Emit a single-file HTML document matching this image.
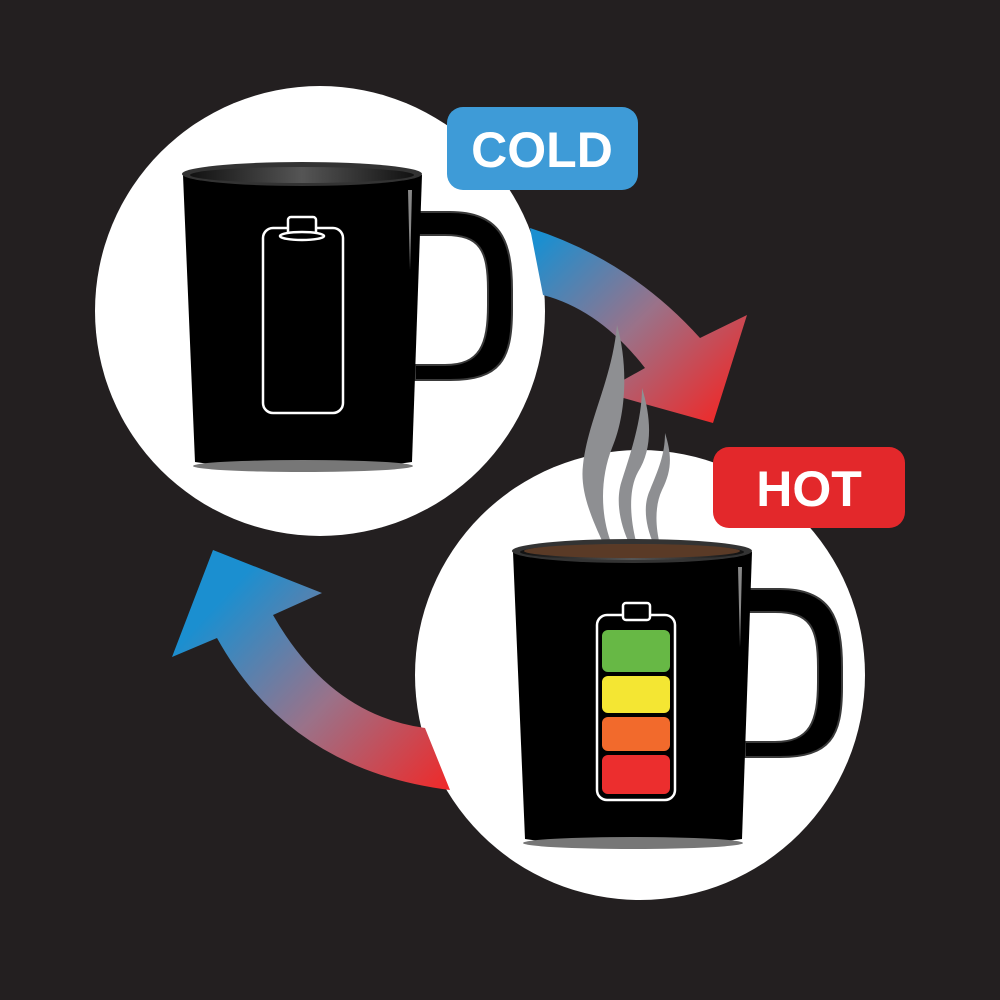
<!DOCTYPE html>
<html><head><meta charset="utf-8"><style>
html,body{margin:0;padding:0;background:#231f20;}
svg{display:block}
</style></head><body>
<svg width="1000" height="1000" viewBox="0 0 1000 1000" xmlns="http://www.w3.org/2000/svg">
<defs>
<linearGradient id="g1" x1="540" y1="240" x2="720" y2="420" gradientUnits="userSpaceOnUse">
<stop offset="0" stop-color="#1b8fd0"/><stop offset="0.5" stop-color="#9a7289"/><stop offset="1" stop-color="#ee2a2a"/></linearGradient>
<linearGradient id="g2" x1="230" y1="590" x2="445" y2="790" gradientUnits="userSpaceOnUse">
<stop offset="0" stop-color="#1b8fd0"/><stop offset="0.5" stop-color="#9a7289"/><stop offset="1" stop-color="#ee2a2a"/></linearGradient>
<linearGradient id="rim" x1="0" y1="0" x2="1" y2="0"><stop offset="0" stop-color="#111"/><stop offset="0.5" stop-color="#555"/><stop offset="1" stop-color="#111"/></linearGradient>
<g id="mug">
<path d="M415 212 L450 212 C500 212 512 240 512 290 L512 310 C512 360 500 380 450 380 L415 380 L415 365 L445 365 C480 365 488 345 488 305 L488 290 C488 250 480 235 445 235 L415 235 Z" fill="#000" stroke="#3a3a3a" stroke-width="2"/>
<path d="M183 175 L422 175 L412 462 Q303 478 195 462 Z" fill="#000"/>
<ellipse cx="303" cy="466" rx="110" ry="6" fill="#777"/>
<ellipse cx="302" cy="174" rx="120" ry="12" fill="#333"/>
<ellipse cx="302" cy="175" rx="112" ry="8" fill="url(#rim)"/>
<path d="M408 190 L412 190 L410 270 Z" fill="#888"/>
</g>
</defs>
<circle cx="320" cy="311" r="225" fill="#fff"/>
<circle cx="640" cy="675" r="225" fill="#fff"/>
<path d="M530 228 Q630 260 700 338 L747 315 L713 423 L602 392 L645 368 Q600 310 543 295 Z" fill="url(#g1)"/>
<path d="M450 790 Q290 770 217 638 L172 657 L213 550 L322 593 L273 615 Q330 715 425 728 Z" fill="url(#g2)"/>
<use href="#mug"/>
<g fill="none" stroke="#fff" stroke-width="2.5">
<rect x="263" y="228" width="80" height="185" rx="10"/>
<rect x="288" y="217" width="28" height="18" rx="3" fill="#000"/>
<ellipse cx="302" cy="236" rx="22" ry="4" fill="#000"/>
</g>
<g fill="#8e8f92">
<path d="M617 325 C627 360 628 410 612 448 C600 478 600 515 612 545 L604 545 C590 515 580 490 583 465 C588 420 612 380 617 325 Z"/>
<path d="M642 388 C652 420 652 450 638 472 C628 490 630 520 637 545 L630 545 C620 525 615 500 622 480 C630 455 642 420 642 388 Z"/>
<path d="M665 433 C672 455 672 470 662 490 C655 505 655 525 660 545 L654 545 C645 525 643 505 650 490 C658 470 665 455 665 433 Z"/>
</g>
<use href="#mug" transform="translate(330,377)"/>
<ellipse cx="632" cy="551" rx="108" ry="7" fill="#5a3a26"/>
<rect x="597" y="615" width="78" height="185" rx="10" fill="#000" stroke="#fff" stroke-width="2.5"/>
<rect x="623" y="603" width="27" height="17" rx="3" fill="#000" stroke="#fff" stroke-width="2.5"/>
<rect x="602" y="630" width="68" height="42" rx="6" fill="#67b845"/>
<rect x="602" y="676" width="68" height="37" rx="6" fill="#f4e633"/>
<rect x="602" y="717" width="68" height="34" rx="6" fill="#f26a2c"/>
<rect x="602" y="755" width="68" height="39" rx="6" fill="#ec2e2e"/>
<rect x="447" y="107" width="191" height="83" rx="16" fill="#3e9bd7"/>
<text x="542" y="167" font-family="Liberation Sans, sans-serif" font-weight="bold" font-size="50" fill="#fff" text-anchor="middle">COLD</text>
<rect x="713" y="447" width="192" height="81" rx="16" fill="#e3282b"/>
<text x="809" y="506" font-family="Liberation Sans, sans-serif" font-weight="bold" font-size="50" fill="#fff" text-anchor="middle">HOT</text>
</svg>
</body></html>
